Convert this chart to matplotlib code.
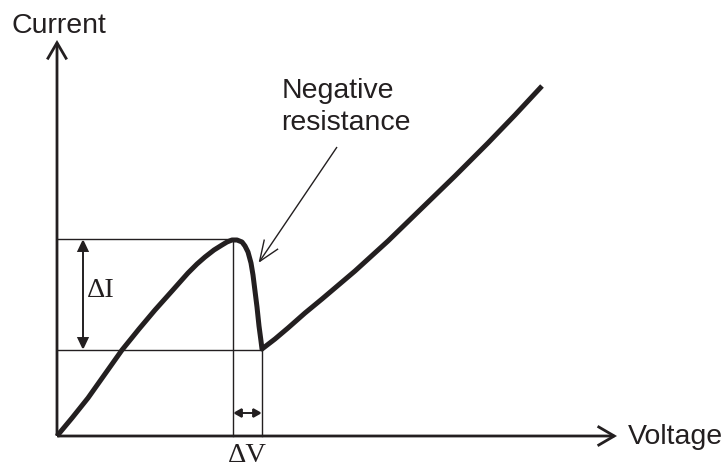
import matplotlib.pyplot as plt
from matplotlib.patches import FancyArrowPatch

# I-V curve of a tunnel diode (arbitrary units)
voltage = [0.00, 0.15, 0.31, 0.48, 0.65, 0.82, 0.98, 1.15, 1.31, 1.40,
           1.48, 1.57, 1.65, 1.70, 1.75, 1.80, 1.85, 1.88, 1.91, 1.94,
           1.96, 1.98, 2.00, 2.02, 2.04, 2.05, 2.18, 2.31, 2.48, 2.65,
           2.98, 3.31, 3.65, 3.98, 4.31, 4.58, 4.85]
current = [0.00, 0.18, 0.38, 0.62, 0.86, 1.07, 1.26, 1.45, 1.63, 1.72,
           1.79, 1.86, 1.91, 1.94, 1.96, 1.96, 1.94, 1.90, 1.84, 1.73,
           1.61, 1.45, 1.29, 1.10, 0.95, 0.87, 0.97, 1.08, 1.23, 1.37,
           1.65, 1.95, 2.28, 2.60, 2.93, 3.21, 3.50]

peak_v, peak_i = 1.76, 1.97
valley_v, valley_i = 2.05, 0.86
v_max, i_max = 5.60, 3.96

ink = "#231f20"
sans = ["Liberation Sans", "DejaVu Sans"]
serif = ["Liberation Serif", "DejaVu Serif"]

fig = plt.figure(figsize=(7.25, 4.67), dpi=100)
ax = fig.add_axes([57 / 725, 31 / 467, 568 / 725, 406 / 467])
ax.set_xlim(0, 5.68)
ax.set_ylim(0, 4.06)
ax.axis("off")


def arrow(p0, p1, style, lw, scale=10):
    ax.add_patch(FancyArrowPatch(p0, p1, arrowstyle=style, mutation_scale=scale,
                                 lw=lw, color=ink, shrinkA=0, shrinkB=0,
                                 clip_on=False, joinstyle="miter",
                                 capstyle="butt"))


# axes with open arrow heads
axis_head = "->,head_length=1.2,head_width=0.7"
arrow((0, 0), (0, i_max), axis_head, 2.0)
arrow((0, 0), (v_max, 0), axis_head, 2.0)

# guide lines for peak and valley
thin = dict(color=ink, lw=1.0, clip_on=False)
ax.plot([0, peak_v], [peak_i, peak_i], **thin)
ax.plot([0, valley_v], [valley_i, valley_i], **thin)
ax.plot([peak_v, peak_v], [0, peak_i], **thin)
ax.plot([valley_v, valley_v], [0, valley_i], **thin)

# delta I and delta V
arrow((0.26, valley_i), (0.26, peak_i),
      "<|-|>,head_length=0.7,head_width=0.33", 1.4)
arrow((peak_v, 0.23), (valley_v, 0.23),
      "<|-|>,head_length=0.5,head_width=0.28", 1.4)

# curve
ax.plot(voltage, current, color=ink, lw=3.6, solid_capstyle="butt",
        solid_joinstyle="round", clip_on=False)

# negative resistance pointer
arrow((2.80, 2.89), (2.015, 1.73), "->,head_length=1.5,head_width=0.6", 1.0)

fs = 20.5
ax.text(-0.45, 4.03, "Current", fontsize=fs, family=sans, color=ink,
        ha="left", va="baseline")
ax.text(5.71, -0.08, "Voltage", fontsize=fs, family=sans, color=ink,
        ha="left", va="baseline")
ax.text(2.25, 3.38, "Negative", fontsize=fs, family=sans, color=ink,
        ha="left", va="baseline")
ax.text(2.24, 3.06, "resistance", fontsize=fs, family=sans, color=ink,
        ha="left", va="baseline")
ax.text((peak_v + valley_v) / 2, -0.26, "\u0394V", fontsize=fs, family=serif,
        color=ink, ha="center", va="baseline")
ax.text(0.30, 1.39, "\u0394I", fontsize=fs, family=serif, color=ink,
        ha="left", va="baseline")

fig.savefig("out.png", dpi=100)
